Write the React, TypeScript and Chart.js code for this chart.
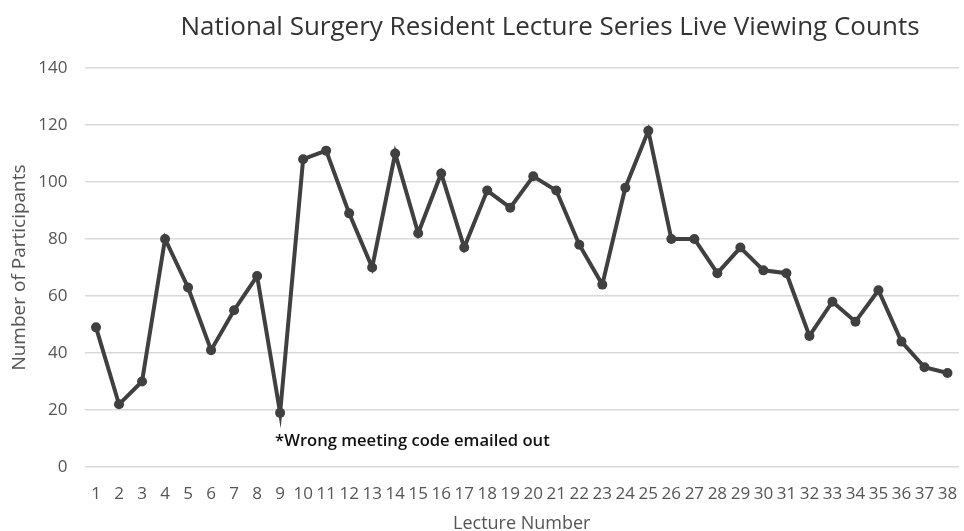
import React, { useEffect, useRef } from "react";
import { Chart, registerables } from "chart.js";

Chart.register(...registerables);

const lectures = Array.from({ length: 38 }, (_, i) => String(i + 1));
const participants = [
  49, 22, 30, 80, 63, 41, 55, 67, 19, 108,
  111, 89, 70, 110, 82, 103, 77, 97, 91, 102,
  97, 78, 64, 98, 118, 80, 80, 68, 77, 69,
  68, 46, 58, 51, 62, 44, 35, 33,
];
const yTicks = [0, 20, 40, 60, 80, 100, 120, 140];
const titleText = "National Surgery Resident Lecture Series Live Viewing Counts";
const xTitle = "Lecture Number";
const yTitle = "Number of Participants";
const noteText = "*Wrong meeting code emailed out";
const noteLecture = "9";
const noteValue = 9;

const FONT = "'Open Sans', Lato, sans-serif";

const overlayPlugin = {
  id: "overlay",
  afterDatasetsDraw(chart: any) {
    const { ctx, scales } = chart;
    const x = scales.x.getPixelForValue(lectures.indexOf(noteLecture)) - 5;
    const y = scales.y.getPixelForValue(noteValue);
    ctx.save();
    ctx.font = `600 16.6px ${FONT}`;
    ctx.fillStyle = "#111111";
    ctx.textAlign = "left";
    ctx.textBaseline = "middle";
    ctx.fillText(noteText, x, y);
    ctx.font = `26px ${FONT}`;
    ctx.fillStyle = "#333333";
    ctx.textAlign = "center";
    ctx.fillText(titleText, 550, 28);
    ctx.restore();
  },
};

export default function App() {
  const ref = useRef<HTMLCanvasElement | null>(null);
  useEffect(() => {
    document.body.style.margin = "0";
    const chart = new Chart(ref.current!, {
      type: "line",
      data: {
        labels: lectures,
        datasets: [
          {
            data: participants,
            borderColor: "#404040",
            backgroundColor: "#404040",
            borderWidth: 4,
            pointRadius: 5,
            pointBackgroundColor: "#404040",
            pointBorderWidth: 0,
            tension: 0,
          },
        ],
      },
      options: {
        animation: false,
        responsive: false,
        maintainAspectRatio: false,
        layout: { padding: { left: 8, right: -6, top: 68, bottom: 0 } },
        plugins: {
          legend: { display: false },
          tooltip: { enabled: false },
          title: { display: false },
        },
        scales: {
          x: {
            offset: true,
            grid: { display: false },
            border: { display: false },
            afterFit(axis: any) {
              axis.height = 64;
              axis.paddingLeft = 0;
              axis.paddingRight = 0;
            },
            ticks: {
              color: "#555555",
              font: { family: FONT, size: 17 },
              maxRotation: 0,
              minRotation: 0,
              autoSkip: false,
              padding: 9,
            },
            title: {
              display: true,
              text: xTitle,
              color: "#555555",
              font: { family: FONT, size: 18 },
              padding: { top: 0, bottom: -4 },
            },
          },
          y: {
            min: 0,
            max: 140,
            afterBuildTicks(axis: any) {
              axis.ticks = yTicks.map((v) => ({ value: v }));
            },
            afterFit(axis: any) {
              axis.width = 76.5;
            },
            grid: { color: "#d9d9d9", lineWidth: 1.5, drawTicks: false },
            border: { display: false },
            ticks: {
              color: "#555555",
              font: { family: FONT, size: 17 },
              padding: 17,
            },
            title: {
              display: true,
              text: yTitle,
              color: "#555555",
              font: { family: FONT, size: 19 },
              padding: { top: 0, bottom: 0 },
            },
          },
        },
      },
      plugins: [overlayPlugin],
    });
    return () => chart.destroy();
  }, []);
  return (
    <div style={{ position: "fixed", left: 0, top: 0, width: 964, height: 531, background: "#fff" }}>
      <canvas ref={ref} width={964} height={531} />
    </div>
  );
}
